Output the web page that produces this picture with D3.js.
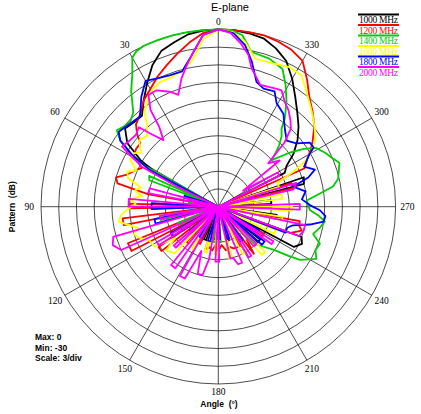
<!DOCTYPE html>
<html>
<head>
<meta charset="utf-8">
<script src="https://cdn.jsdelivr.net/npm/d3@7"></script>
<style>
body { margin: 0; background: #fff; }
</style>
</head>
<body>
<svg id="polar"></svg>
<script>
var freqs = ["1000 MHz", "1200 MHz", "1400 MHz", "1600 MHz", "1800 MHz", "2000 MHz"]
var colors = ["#000000", "#ff0000", "#00cc00", "#ffff00", "#0000ff", "#ff00ff"]

// [angle deg (counter-clockwise from top), pattern dB]
var s1000 = [[0,0],[5,-0.1],[10,-0.4],[15,-1.2],[20,-1.9],[25,-3.6],[30,-5.9],[35,-8],[40,-9.9],[45,-9.8],[50,-9.4],[55,-11.2],[59,-14.6],[62,-18.5],[65,-30],
    [78,-25],[81,-25],[88,-30],[98,-24],[101,-24],[110,-30],[120,-22.7],[124,-22.7],[131,-30],[138,-24],[141,-24],[149,-30],[156,-24],[160,-24],[167,-30],
    [173,-24.5],[177,-24.5],[185,-30],[193,-24],[197,-24],[205,-30],[213,-23],[217,-23],[223,-30],[228,-21],[232,-21],[237,-30],[242,-15.5],[246,-14.5],[250,-15],[253,-30],
    [258,-20],[262,-20],[267,-30],[273,-21],[277,-21],[282,-30],[285,-15],[289,-14.7],[293,-30],[297,-17.4],[301,-16.5],[305,-14.5],[310,-12.5],[315,-10.8],
    [320,-9.2],[325,-7.3],[330,-5],[335,-2.8],[340,-1.5],[345,-0.5],[350,-0.2],[355,0]]
var s1200 = [[0,0],[5,-0.5],[10,-1.8],[15,-3.2],[20,-4.5],[25,-5.7],[30,-7],[35,-8],[40,-9.5],[45,-10.3],[48,-11.5],[51,-13],[55,-13],[59,-13.3],
    [63,-15.5],[67,-14.5],[71,-13.5],[74,-12],[77,-12.5],[80,-18],[83,-30],[88,-15],[91,-15],[94,-30],[97,-13.7],[101,-13.7],[105,-30],[112,-13.5],[117,-13.5],[121,-30],
    [124,-17.8],[128,-17.8],[132,-30],[138,-22],[141,-22],[146,-30],[151,-23],[154,-23],[158,-30],[163,-22.5],[168,-23],[172,-22.5],[176,-23.5],[180,-22.5],
    [185,-23.5],[190,-22.5],[195,-23],[200,-22.5],[205,-22.4],[209,-22.4],[213,-30],[217,-20],[221,-22.7],[225,-22.7],[229,-30],[236,-21],[239,-21],[244,-30],
    [250,-17],[254,-15.3],[257,-16],[260,-16],[264,-30],[269,-21],[272,-21],[277,-30],[284,-17],[288,-17],[291,-30],[294,-14],[298,-13],[302,-11.5],[305,-10.5],
    [310,-8.8],[315,-7.4],[320,-6],[325,-3.8],[330,-1.5],[335,-0.7],[340,-0.3],[345,0],[350,0],[355,0]]
var s1400 = [[0,0],[5,0],[10,0],[15,0],[20,0],[25,0],[28,-0.3],[30,-0.9],[33,-3.3],[37,-5.5],[42,-8.5],[46,-9.3],[50,-9],[53,-8.5],[56,-10],[59,-13],[61,-16],[63,-30],
    [66,-17.2],[69,-17.5],[72,-30],[82,-25],[85,-25],[90,-30],[99,-20],[103,-20],[107,-30],[112,-22.6],[115,-22.6],[120,-30],[130,-24],[133,-24],[140,-30],
    [148,-24],[151,-24],[158,-30],[172,-24],[176,-24],[180,-24],[184,-24],[188,-30],[196,-25],[199,-25],[206,-30],[214,-24],[217,-24],[221,-30],
    [224,-21.2],[228,-20],[232,-18.2],[235,-15.5],[237,-13.5],[242,-11.2],[246,-12],[250,-11.7],[254,-13.3],[258,-12.5],[262,-11.8],[265,-13],[268,-14.5],
    [271,-14.8],[274,-15],[277,-13],[280,-10.3],[283,-9.2],[286,-8.8],[290,-8.2],[293,-9],[297,-9.8],[301,-10.7],[304,-12.5],[307,-14.7],[311,-18],[315,-15.5],
    [318,-14],[321,-13],[323,-11.3],[327,-8.8],[331,-6.5],[335,-4.3],[341,-3.5],[348,-3.2],[352,-0.7],[356,0]]
var s1600 = [[0,0],[5,-1.5],[10,-4.8],[15,-6.2],[20,-6.7],[25,-6.7],[29,-7.2],[33,-8.2],[38,-9.7],[41,-11.6],[45,-13],[50,-12.5],[55,-14],
    [58,-13],[62,-13.1],[66,-14.9],[69,-13.5],[72.5,-14],[76,-16.5],[79,-15.6],[82,-17],[85,-15],[88,-16],[92,-14.5],[95,-13.5],[98.5,-12.9],[101.5,-14.5],
    [105,-16],[108,-15],[111,-15.5],[116,-17],[122,-17.3],[126,-21],[130,-18.5],[137,-19.2],[141,-30],[147,-21.9],[150,-21.5],[155,-30],[163,-22],[166,-22],[171,-30],
    [176,-22],[180,-22],[185,-30],[192,-21],[195,-21],[201,-30],[207,-21],[211,-21],[216,-30],[222,-19],[226,-19],[231,-30],[244,-19.5],[248,-19.5],[253,-30],
    [258,-19],[261,-19],[265,-30],[267,-17.5],[270,-17.5],[273,-30],[277,-19.1],[281,-19.1],[285,-30],[288,-19.2],[292,-19.2],[295,-16],[298,-13],[301,-11.5],
    [305,-10],[309,-9],[314,-7.8],[318,-6.8],[322.5,-5.5],[327.7,-3.7],[333,-3.5],[339.6,-4.1],[346,-4.2],[350.8,-1.7],[355,-0.4]]
var s1800 = [[0,0],[5,-0.8],[10,-4],[15,-6.3],[20,-6.3],[25,-6],[30,-5.4],[35,-7.3],[41,-9.8],[47,-9.5],[53,-8.9],[56,-10],[59,-13],[62,-17],[64,-30],
    [72,-24],[75,-24],[80,-30],[87,-18.7],[92,-18.7],[96,-30],[101,-19],[105,-19],[109,-30],[119,-20.8],[123,-20.8],[127,-30],[130,-23.7],[134,-23.7],[139,-30],
    [148,-24],[152,-24],[157,-30],[163,-24],[167,-24],[173,-30],[180,-24.5],[183,-24.5],[189,-30],[195,-24.3],[199,-24.3],[205,-30],[212,-23],[216,-23],[221,-30],
    [229,-20.2],[233,-20.2],[237,-30],[240,-22],[243,-30],[249,-17.8],[253,-17.8],[256,-17],[259,-14.2],[262,-12],[265,-11.8],[268,-12.8],[271,-14.5],[275,-15.8],
    [280,-15],[285,-16.9],[288,-14],[291,-12.5],[295,-14],[299,-12.6],[302,-11],[305,-11.1],[309,-13],[314,-13.9],[319,-12.8],[325,-10.8],[330.6,-9.9],
    [334,-8.3],[339,-8.6],[343,-7.9],[347,-4.8],[350.6,-2.3],[355,-0.5]]
var s2000 = [[0,0],[5,-0.8],[9,-3.4],[12.6,-5.5],[16,-7.4],[19.7,-9.9],[22.8,-8.9],[28,-7.7],[32,-7.7],[35,-10],[36.5,-13.2],[39.5,-15.4],[43,-13],[45,-11],
    [49,-11.5],[53,-11.3],[58,-10.8],[60,-13],[62.4,-15.4],[64,-22],[66,-30],[75,-18],[79,-17.9],[82,-30],[85,-14.8],[90,-14.8],[94,-30],[99,-20],[102,-20],[104,-30],
    [106,-11.5],[110,-11],[114,-12],[118,-30],[120,-18],[123,-18],[127,-30],[131,-20],[134,-20],[137,-30],[141,-17.3],[145,-17.3],[148,-30],[151,-16.6],[155,-16.6],
    [159,-22],[163,-18.1],[167,-18.1],[170,-21],[174,-30],[177,-20.7],[181,-20.7],[186,-30],[193,-21],[196,-21],[199,-19.7],[203,-19.7],[207,-30],[211,-20],[214,-20],
    [218,-30],[222,-21],[226,-21],[230,-30],[235,-19],[238,-19],[242,-30],[250,-15.5],[254,-15],[258,-15],[261,-30],[268,-16.2],[272,-16.2],[276,-30],
    [283,-16.9],[287,-16.2],[291,-30],[297,-18.4],[300,-18.4],[303,-25],[307,-17],[311,-18.8],[314,-14.5],[317,-12],[320,-11],[324,-9.8],[327.6,-9],
    [331.5,-7.6],[334.4,-7.8],[341,-8.2],[346.5,-5.9],[348.8,-3.8],[352,-2.2],[356,-0.5]]

var seriesValues = [s1000, s1200, s1400, s1600, s1800, s2000]

var angleTicks = d3.range(0, 360, 30)
var ringLevels = d3.range(-27, 1, 3)
var statLines = ["Max: 0", "Min: -30", "Scale: 3/div"]

var screen = {width: 421, height: 414}
var center = {x: 218.3, y: 206.7}
var radius = 177.3

var svg = d3.select("#polar")
    .attr("width", screen.width)
    .attr("height", screen.height)

var rScale = d3.scaleLinear()
    .domain([-30, 0])
    .range([0, radius])
    .clamp(true)

// counter-clockwise, 0 at top
var aScale = d3.scaleLinear()
    .domain([0, 360])
    .range([0, -2 * Math.PI])

var g = svg.append("g")
    .attr("transform", "translate(" + center.x + "," + center.y + ")")

// grid rings
g.selectAll(".ring")
    .data(ringLevels)
    .enter()
    .append("circle")
    .attr("class", "ring")
    .attr("r", function(d) { return rScale(d) })
    .attr("fill", "none")
    .attr("stroke", "#000")
    .attr("stroke-width", 0.7)

// spokes
g.selectAll(".spoke")
    .data(angleTicks)
    .enter()
    .append("line")
    .attr("x1", 0)
    .attr("y1", 0)
    .attr("x2", function(d) { return radius * Math.sin(aScale(d)) })
    .attr("y2", function(d) { return -radius * Math.cos(aScale(d)) })
    .attr("stroke", "#000")
    .attr("stroke-width", 0.7)

// angle labels, pushed out a bit more at the sides
var labelR = function(a) { return 185 + 4 * Math.abs(Math.sin(a)) }

g.selectAll(".alabel")
    .data(angleTicks)
    .enter()
    .append("text")
    .attr("x", function(d) {
        var a = aScale(d)
        return labelR(a) * Math.sin(a)
    })
    .attr("y", function(d) {
        var a = aScale(d)
        return -labelR(a) * Math.cos(a)
    })
    .attr("text-anchor", "middle")
    .attr("dominant-baseline", "central")
    .attr("font-family", "Liberation Serif, Times New Roman, serif")
    .attr("font-size", 9.5)
    .text(function(d) { return d })

// pattern curves
var line = d3.lineRadial()
    .angle(function(d) { return aScale(d[0]) })
    .radius(function(d) { return rScale(d[1]) })
    .curve(d3.curveLinearClosed)

seriesValues.forEach(function(pts, i)
{
    g.append("path")
        .datum(pts)
        .attr("d", line)
        .attr("fill", "none")
        .attr("stroke", colors[i])
        .attr("stroke-width", 1.8)
        .attr("stroke-linejoin", "round")
})

// title and axis names
svg.append("text")
    .attr("x", 230)
    .attr("y", 10.5)
    .attr("text-anchor", "middle")
    .attr("font-family", "Liberation Sans, Arial, sans-serif")
    .attr("font-size", 11)
    .text("E-plane")

svg.append("text")
    .attr("transform", "translate(15," + center.y + ") rotate(-90)")
    .attr("text-anchor", "middle")
    .attr("font-family", "Liberation Sans, Arial, sans-serif")
    .attr("font-weight", "bold")
    .attr("font-size", 8.5)
    .attr("xml:space", "preserve")
    .text("Pattern  (dB)")

svg.append("text")
    .attr("x", 219)
    .attr("y", 407)
    .attr("text-anchor", "middle")
    .attr("font-family", "Liberation Sans, Arial, sans-serif")
    .attr("font-weight", "bold")
    .attr("font-size", 8.5)
    .attr("xml:space", "preserve")
    .text("Angle  (°)")

svg.selectAll(".stat")
    .data(statLines)
    .enter()
    .append("text")
    .attr("x", 35)
    .attr("y", function(d, i) { return 340 + i * 10.7 })
    .attr("font-family", "Liberation Sans, Arial, sans-serif")
    .attr("font-weight", "bold")
    .attr("font-size", 8.5)
    .text(function(d) { return d })

// legend
var legend = svg.append("g")
    .attr("transform", "translate(358,14.5)")

var items = legend.selectAll(".item")
    .data(freqs)
    .enter()
    .append("g")
    .attr("transform", function(d, i) { return "translate(0," + (i * 10.5) + ")" })

items.append("line")
    .attr("x1", 0)
    .attr("x2", 41)
    .attr("y1", 0)
    .attr("y2", 0)
    .attr("stroke", function(d, i) { return colors[i] })
    .attr("stroke-width", 1.8)

items.append("text")
    .attr("x", 1)
    .attr("y", 8.6)
    .attr("font-family", "Liberation Serif, Times New Roman, serif")
    .attr("font-size", 9.5)
    .attr("textLength", 39)
    .attr("fill", function(d, i) { return colors[i] })
    .text(function(d) { return d })
</script>
</body>
</html>
